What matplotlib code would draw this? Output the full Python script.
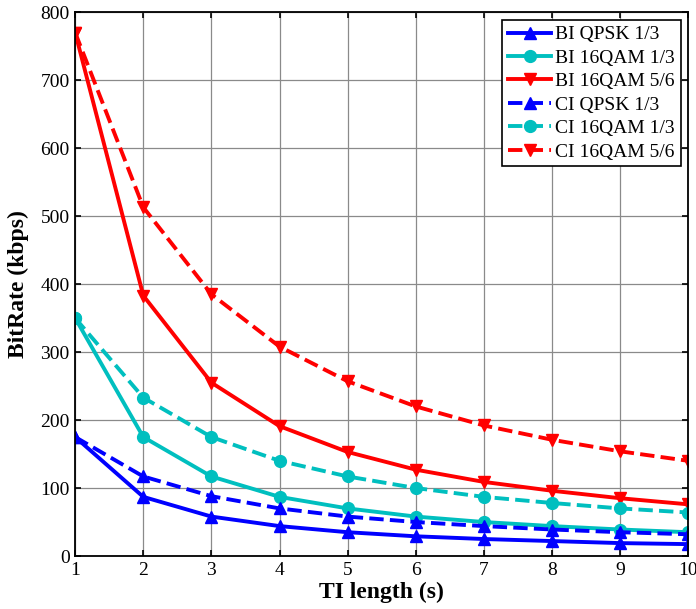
import matplotlib.pyplot as plt

ti_length = [1, 2, 3, 4, 5, 6, 7, 8, 9, 10]

bi_qpsk_13 = [175, 87, 58, 44, 35, 29, 25, 22, 19, 17.5]
bi_16qam_13 = [350, 175, 117, 87, 70, 58, 50, 44, 39, 35]
bi_16qam_56 = [770, 383, 255, 191, 153, 127, 109, 96, 85, 76]
ci_qpsk_13 = [175, 117, 88, 70, 58, 50, 44, 39, 35, 32]
ci_16qam_13 = [350, 233, 175, 140, 117, 100, 87, 78, 70, 64]
ci_16qam_56 = [770, 513, 385, 308, 257, 220, 192, 171, 154, 140]

plt.rcParams["font.family"] = ["Liberation Serif", "DejaVu Serif"]
plt.rcParams["font.size"] = 14

fig = plt.figure(figsize=(6.96, 6.09), dpi=100)
ax = fig.add_axes([0.108, 0.087, 0.881, 0.893])

lw = 2.8
ms = 8.5
ax.plot(ti_length, bi_qpsk_13, "-", color="#0000ff", marker="^", lw=lw, ms=ms, label="BI QPSK 1/3")
ax.plot(ti_length, bi_16qam_13, "-", color="#00bfbf", marker="o", lw=lw, ms=ms, label="BI 16QAM 1/3")
ax.plot(ti_length, bi_16qam_56, "-", color="#ff0000", marker="v", lw=lw, ms=ms, label="BI 16QAM 5/6")
ax.plot(ti_length, ci_qpsk_13, "--", color="#0000ff", marker="^", lw=lw, ms=ms, label="CI QPSK 1/3")
ax.plot(ti_length, ci_16qam_13, "--", color="#00bfbf", marker="o", lw=lw, ms=ms, label="CI 16QAM 1/3")
ax.plot(ti_length, ci_16qam_56, "--", color="#ff0000", marker="v", lw=lw, ms=ms, label="CI 16QAM 5/6")

ax.set_xlim(1, 10)
ax.set_ylim(0, 800)
ax.set_xticks(ti_length)
ax.set_yticks(range(0, 801, 100))
ax.tick_params(direction="in", top=True, right=True, length=4, width=1.2, labelsize=14, pad=4)
for s in ax.spines.values():
    s.set_linewidth(1.3)
ax.grid(True, color="#8a8a8a", lw=0.9)
ax.set_axisbelow(True)

ax.set_xlabel("TI length (s)", fontweight="bold", fontsize=17, labelpad=2)
ax.set_ylabel("BitRate (kbps)", fontweight="bold", fontsize=17, labelpad=8)

leg = ax.legend(loc="upper right", fontsize=14, fancybox=False, edgecolor="black",
                framealpha=1, handlelength=2.2, borderpad=0.3, labelspacing=0.3,
                handletextpad=0.2, borderaxespad=0.4)
leg.get_frame().set_linewidth(1.2)

plt.savefig("out.png", dpi=100)
